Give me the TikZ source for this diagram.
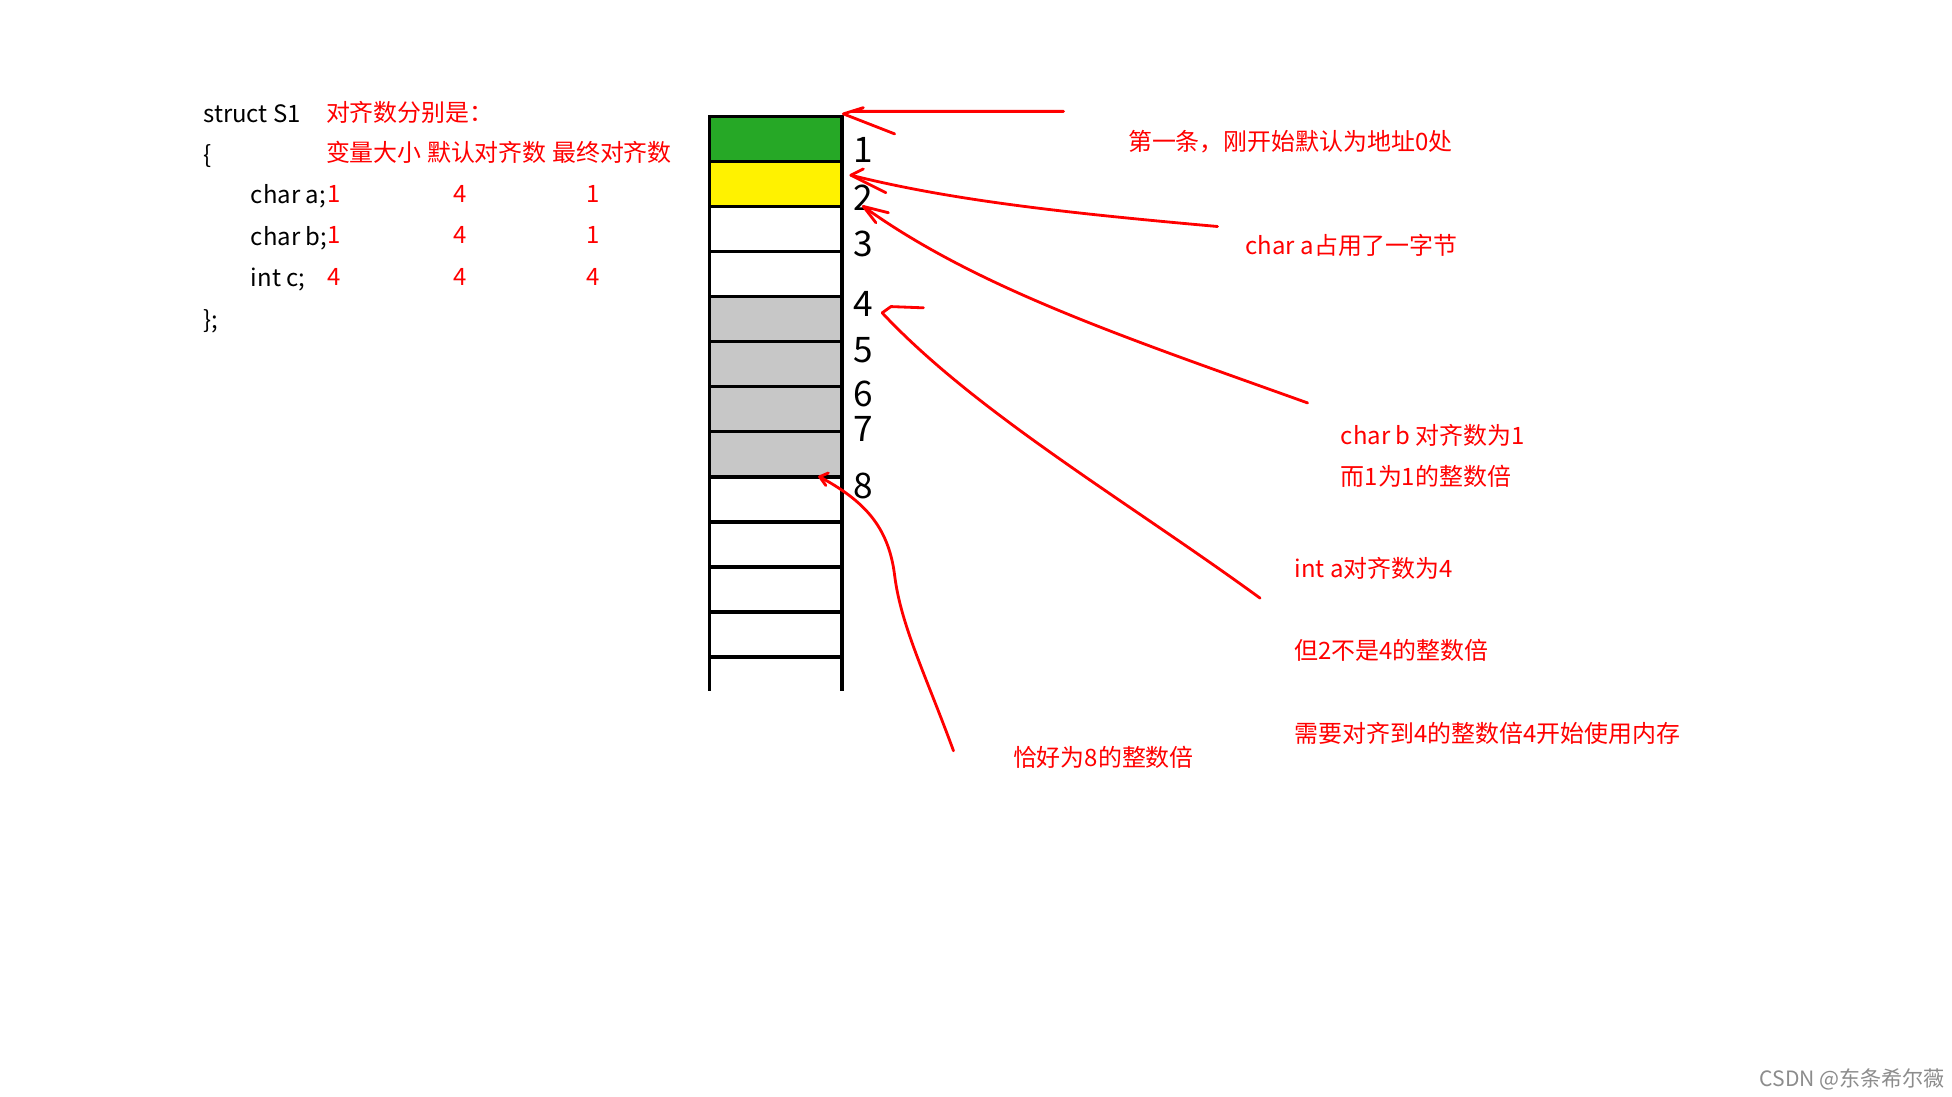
\documentclass[tikz,border=0pt]{standalone}
\usepackage{fontspec}
\setmainfont{Noto Sans CJK SC}
\begin{document}
\begin{tikzpicture}[x=0.0125cm,y=-0.0125cm,
  txt/.style={anchor=west,inner sep=0pt,font=\fontsize{6.8}{8}\selectfont},
  rt/.style={txt,text=red},
  val/.style={inner sep=0pt,text=red,font=\fontsize{6.8}{8}\selectfont},
  cell/.style={draw=black,line width=1pt},
  hand/.style={draw=red,line width=0.8pt,line cap=round,line join=round},
  dig/.style={inner sep=0pt,font=\fontsize{10}{10}\selectfont\itshape}]
\useasboundingbox (0,0) rectangle (1560,876);
\fill[white] (0,0) rectangle (1560,876);
% code
\node[txt] (s1) at (162,91) {struct S1};
\node[txt] (ob) at (162,125) {\{};
\node[txt] (ca) at (200,157) {char a;};
\node[txt] (cb) at (200,190) {char b;};
\node[txt] (ic) at (200,223) {int c;};
\node[txt] (cb2) at (162,257) {\};};
\node[rt] (h1) at (260,90) {对齐数分别是：};
\node[rt] (h2) at (260,122) {变量大小 默认对齐数 最终对齐数};
\foreach \y/\a/\b/\c [count=\i] in {155/1/4/1,188/1/4/1,221/4/4/4}{
  \node[val] (va\i) at (267,\y) {\a};
  \node[val] (vb\i) at (368,\y) {\b};
  \node[val] (vc\i) at (474,\y) {\c};}
% memory column
\fill[green!60!black!85] (567,93) rectangle (673,129);
\fill[yellow] (567,129) rectangle (673,165);
\fill[black!22] (567,237) rectangle (673,381);
\foreach \y in {93,129,165,201,237,273,309,345,381,417,453,489,525}
  \draw[cell] (567,\y) -- (673,\y);
\draw[cell] (567,93) -- (567,552);
\draw[cell] (673,93) -- (673,552);
\draw[cell] (567,93) rectangle (673,129);
% digits
\foreach \d/\y in {1/120,2/158,3/195,4/243,5/280,6/315,7/343,8/388}
  \node[dig] (d\d) at (690,\y) {\d};
% arrows
\draw[hand] (850,89) -- (680,89) (690,86) -- (674,91) -- (715,107);
\draw[hand] (973,181) .. controls (850,170) and (760,160) .. (680,140);
\draw[hand] (690,135) -- (680,140) -- (708,154);
\draw[hand] (1045,322) .. controls (900,270) and (780,230) .. (690,165);
\draw[hand] (700,178) -- (690,165) -- (710,170);
\draw[hand] (1007,478) .. controls (900,400) and (780,330) .. (705,250);
\draw[hand] (705,250) -- (712,245) -- (738,246);
\draw[hand] (762,600) .. controls (740,540) and (720,500) .. (715,460) .. controls (710,420) and (690,400) .. (655,381);
\draw[hand] (662,378) -- (655,381) -- (660,388);
% labels
\node[rt] (l1) at (901,113) {第一条，刚开始默认为地址0处};
\node[rt] (l2) at (995,196) {char a占用了一字节};
\node[rt] (l3) at (1071,348) {char b 对齐数为1};
\node[rt] (l4) at (1071,381) {而1为1的整数倍};
\node[rt] (l5) at (1034,454) {int a对齐数为4};
\node[rt] (l6) at (1034,520) {但2不是4的整数倍};
\node[rt] (l7) at (1034,586) {需要对齐到4的整数倍4开始使用内存};
\node[rt] (l8) at (809,605) {恰好为8的整数倍};
\node[inner sep=0pt,anchor=east,text=black!45,font=\fontsize{6}{7}\selectfont] (wm) at (1555,863) {CSDN @东条希尔薇};
\end{tikzpicture}
\end{document}
